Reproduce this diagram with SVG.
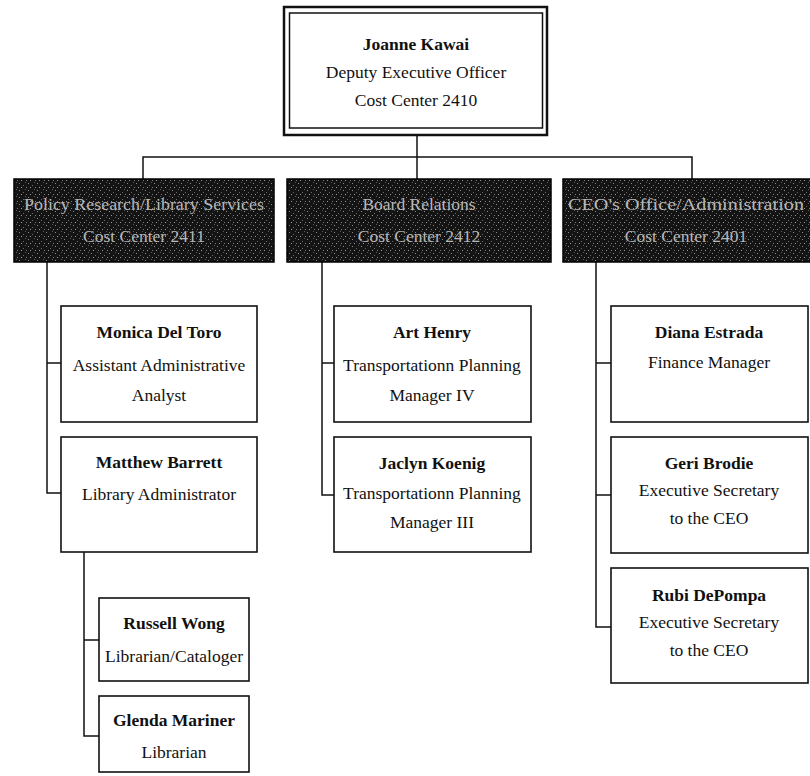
<svg xmlns="http://www.w3.org/2000/svg" width="810" height="776" viewBox="0 0 810 776">
<style>
.box{fill:#fff;stroke:#111;stroke-width:1.6}
.hdr{fill:url(#speck);stroke:#000;stroke-width:1.5}
.t{font-family:"Liberation Serif","Times New Roman",serif;font-size:17.5px;fill:#111;text-anchor:middle}
.b{font-weight:bold}
.h{font-family:"Liberation Serif","Times New Roman",serif;font-size:17.5px;fill:#b8b8b8;text-anchor:middle}
.c{fill:none;stroke:#111;stroke-width:1.5}
</style>
<defs>
<pattern id="speck" width="9" height="7" patternUnits="userSpaceOnUse">
<rect width="9" height="7" fill="#141414"/>
<rect x="1" y="1" width="1" height="1" fill="#8a8a8a"/>
<rect x="5" y="3" width="1" height="1" fill="#6a6a6a"/>
<rect x="3" y="5" width="1" height="1" fill="#9a9a9a"/>
<rect x="7" y="0" width="1" height="1" fill="#5a5a5a"/>
<rect x="8" y="5" width="1" height="1" fill="#7a7a7a"/>
</pattern>
</defs>
<rect width="810" height="776" fill="#fff"/>

<g id="connectors">
<path class="c" d="M417 135 V179"/>
<path class="c" d="M143 179 V157 H692 V179"/>
<path class="c" d="M47 262 V493 H61 M47 363 H61"/>
<path class="c" d="M84 552 V736 H99 M84 640 H99"/>
<path class="c" d="M322 262 V495 H334 M322 363 H334"/>
<path class="c" d="M596 262 V627 H611 M596 363 H611 M596 495 H611"/>
</g>

<g id="joanne">
<rect x="284" y="7" width="263" height="128" fill="#fff" stroke="#111" stroke-width="2.5"/>
<rect x="289.5" y="13" width="253" height="115" fill="none" stroke="#111" stroke-width="1.5"/>
<text class="t b" x="416" y="50">Joanne Kawai</text>
<text class="t" x="416" y="78">Deputy Executive Officer</text>
<text class="t" x="416" y="106">Cost Center 2410</text>
</g>

<g id="hdr-policy">
<rect class="hdr" x="14" y="179" width="260" height="83"/>
<text class="h" x="144" y="210" textLength="240" lengthAdjust="spacingAndGlyphs">Policy Research/Library Services</text>
<text class="h" x="144" y="242">Cost Center 2411</text>
</g>
<g id="hdr-board">
<rect class="hdr" x="287" y="179" width="264" height="83"/>
<text class="h" x="419" y="210">Board Relations</text>
<text class="h" x="419" y="242">Cost Center 2412</text>
</g>
<g id="hdr-ceo">
<rect class="hdr" x="563" y="179" width="252" height="83"/>
<text class="h" x="686" y="210" textLength="236" lengthAdjust="spacingAndGlyphs">CEO's Office/Administration</text>
<text class="h" x="686" y="242">Cost Center 2401</text>
</g>

<g id="monica">
<rect class="box" x="61" y="306" width="196" height="116"/>
<text class="t b" x="159" y="338">Monica Del Toro</text>
<text class="t" x="159" y="371">Assistant Administrative</text>
<text class="t" x="159" y="401">Analyst</text>
</g>
<g id="matthew">
<rect class="box" x="61" y="437" width="196" height="115"/>
<text class="t b" x="159" y="468">Matthew Barrett</text>
<text class="t" x="159" y="500">Library Administrator</text>
</g>
<g id="russell">
<rect class="box" x="99" y="598" width="150" height="83"/>
<text class="t b" x="174" y="629">Russell Wong</text>
<text class="t" x="174" y="662">Librarian/Cataloger</text>
</g>
<g id="glenda">
<rect class="box" x="99" y="696" width="150" height="76"/>
<text class="t b" x="174" y="726">Glenda Mariner</text>
<text class="t" x="174" y="758">Librarian</text>
</g>

<g id="art">
<rect class="box" x="334" y="306" width="197" height="116"/>
<text class="t b" x="432" y="338">Art Henry</text>
<text class="t" x="432" y="371">Transportationn Planning</text>
<text class="t" x="432" y="401">Manager IV</text>
</g>
<g id="jaclyn">
<rect class="box" x="334" y="437" width="197" height="115"/>
<text class="t b" x="432" y="469">Jaclyn Koenig</text>
<text class="t" x="432" y="499">Transportationn Planning</text>
<text class="t" x="432" y="528">Manager III</text>
</g>

<g id="diana">
<rect class="box" x="611" y="306" width="197" height="116"/>
<text class="t b" x="709" y="338">Diana Estrada</text>
<text class="t" x="709" y="368">Finance Manager</text>
</g>
<g id="geri">
<rect class="box" x="611" y="437" width="197" height="116"/>
<text class="t b" x="709" y="469">Geri Brodie</text>
<text class="t" x="709" y="496">Executive Secretary</text>
<text class="t" x="709" y="524">to the CEO</text>
</g>
<g id="rubi">
<rect class="box" x="611" y="568" width="197" height="115"/>
<text class="t b" x="709" y="601">Rubi DePompa</text>
<text class="t" x="709" y="628">Executive Secretary</text>
<text class="t" x="709" y="656">to the CEO</text>
</g>
</svg>
